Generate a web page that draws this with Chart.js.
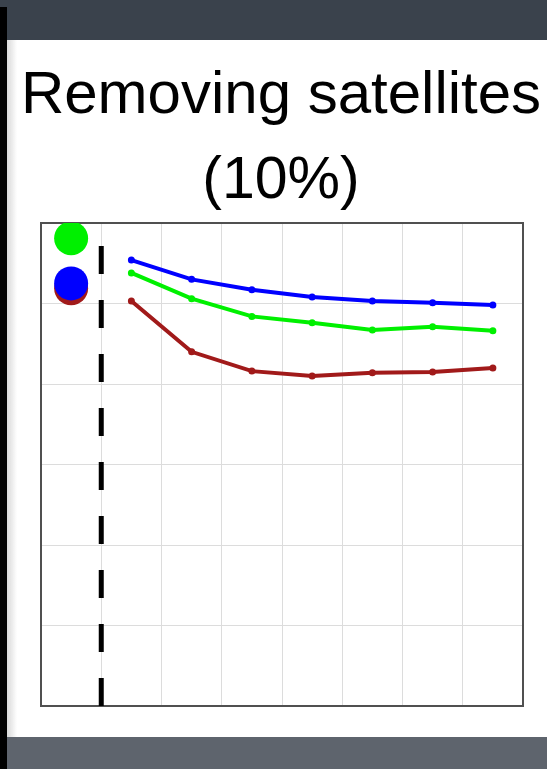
<!DOCTYPE html>
<html>
<head>
<meta charset="utf-8">
<script src="https://cdn.jsdelivr.net/npm/chart.js@4/dist/chart.umd.min.js"></script>
<style>
  body { margin: 0; width: 547px; height: 769px; overflow: hidden; background: #fff; position: relative; }
  #topbar { position: absolute; left: 0; top: 0; width: 547px; height: 40px; background: #3a424c; }
  #bottombar { position: absolute; left: 0; top: 737px; width: 547px; height: 32px; background: #5e646d; }
  #leftstrip { position: absolute; left: 0; top: 7px; width: 7px; height: 762px; background: #000; }
  #shade { position: absolute; left: 7px; top: 40px; width: 10px; height: 697px;
           background: linear-gradient(to right, #d8d8d8, rgba(255,255,255,0)); }
  #wrap { position: absolute; left: 0; top: 40px; width: 547px; height: 697px; }
</style>
</head>
<body>
<div id="topbar"></div>
<div id="wrap"><canvas id="chart"></canvas></div>
<div id="shade"></div>
<div id="bottombar"></div>
<div id="leftstrip"></div>
<script>
document.addEventListener('DOMContentLoaded', function () {

    const titleText = 'Removing satellites';
    const subtitleText = '(10%)';

    // x positions of the curve samples
    const steps = [1.5, 2.5, 3.5, 4.5, 5.5, 6.5, 7.5];
    const blueValues = [5.54, 5.30, 5.17, 5.08, 5.03, 5.01, 4.98];
    const greenValues = [5.38, 5.06, 4.84, 4.76, 4.67, 4.71, 4.66];
    const redValues = [5.03, 4.40, 4.16, 4.10, 4.14, 4.15, 4.20];

    // reference dots on the left and the dashed divider
    const dotX = 0.5;
    const dotGreen = 5.81;
    const dotBlue = 5.25;
    const dotRed = 5.19;
    const dividerX = 1;

    const xMin = 0, xMax = 8;
    const yMin = 0, yMax = 6;

    const toPoints = vals => vals.map((v, i) => ({ x: steps[i], y: v }));

    const red = '#a11a1a';
    const green = '#00f000';
    const blue = '#0000ff';
    const boxColor = '#505050';
    const gridColor = '#dcdcdc';

    // first dataset ends up on top
    new Chart(document.getElementById('chart'), {
        type: 'scatter',
        data: {
            datasets: [
                { data: [{ x: dotX, y: dotGreen }], backgroundColor: green, borderWidth: 0, pointRadius: 17 },
                { data: [{ x: dotX, y: dotBlue }], backgroundColor: blue, borderWidth: 0, pointRadius: 17 },
                { data: [{ x: dotX, y: dotRed }], backgroundColor: red, borderWidth: 0, pointRadius: 17 },
                {
                    data: toPoints(blueValues),
                    showLine: true,
                    borderColor: blue,
                    backgroundColor: blue,
                    borderWidth: 4,
                    pointRadius: 1.5
                },
                {
                    data: toPoints(greenValues),
                    showLine: true,
                    borderColor: green,
                    backgroundColor: green,
                    borderWidth: 4,
                    pointRadius: 1.5
                },
                {
                    data: toPoints(redValues),
                    showLine: true,
                    borderColor: red,
                    backgroundColor: red,
                    borderWidth: 4,
                    pointRadius: 1.5
                },
                {
                    data: [{ x: dividerX, y: yMin }, { x: dividerX, y: yMax }],
                    showLine: true,
                    borderColor: '#000',
                    borderWidth: 5,
                    borderDash: [28, 26],
                    pointRadius: 0
                }
            ]
        },
        options: {
            responsive: true,
            maintainAspectRatio: false,
            animation: false,
            // left padding keeps the title centred over the plot box
            layout: { padding: { left: 15, right: 0, top: 0, bottom: 0 } },
            plugins: {
                legend: { display: false },
                tooltip: { enabled: false },
                title: {
                    display: true,
                    text: titleText,
                    color: '#000',
                    font: { family: 'Liberation Sans', size: 60, weight: 'normal', lineHeight: 1 },
                    padding: { top: 26, bottom: 0 }
                },
                subtitle: {
                    display: true,
                    text: subtitleText,
                    color: '#000',
                    font: { family: 'Liberation Sans', size: 59, weight: 'normal', lineHeight: 1 },
                    padding: { top: 26, bottom: 12 }
                }
            },
            scales: {
                x: {
                    type: 'linear', min: xMin, max: xMax,
                    ticks: { display: false, stepSize: 1 },
                    grid: { color: gridColor, drawTicks: false },
                    border: { display: true, color: boxColor, width: 2 },
                    afterFit: s => { s.height = 31; }
                },
                x2: {
                    type: 'linear', position: 'top', min: xMin, max: xMax,
                    ticks: { display: false },
                    grid: { display: false, drawTicks: false },
                    border: { display: true, color: boxColor, width: 2 },
                    afterFit: s => { s.height = 0; }
                },
                y: {
                    type: 'linear', min: yMin, max: yMax,
                    ticks: { display: false, stepSize: 1 },
                    grid: { color: gridColor, drawTicks: false },
                    border: { display: true, color: boxColor, width: 2 },
                    afterFit: s => { s.width = 26; }
                },
                y2: {
                    type: 'linear', position: 'right', min: yMin, max: yMax,
                    ticks: { display: false },
                    grid: { display: false, drawTicks: false },
                    border: { display: true, color: boxColor, width: 2 },
                    afterFit: s => { s.width = 24; }
                }
            }
        }
    });

});
</script>
</body>
</html>
